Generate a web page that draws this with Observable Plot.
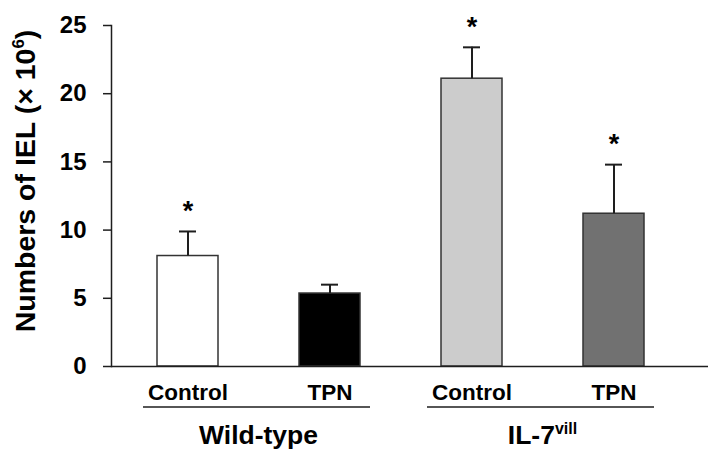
<!DOCTYPE html>
<html><head><meta charset="utf-8">
<script src="https://cdn.jsdelivr.net/npm/d3@7"></script>
<script src="https://cdn.jsdelivr.net/npm/@observablehq/plot@0.6"></script>
<style>
html,body{margin:0;padding:0;background:#fff;}
</style>
</head><body><div id="chart"></div>
<script>
// ---- data ----
const keys = ["WT-Control", "WT-TPN", "IL7-Control", "IL7-TPN"];
const conditions = ["Control", "TPN", "Control", "TPN"];
const groups = ["Wild-type", "Wild-type", "IL-7", "IL-7"];
const means = [8.1, 5.35, 21.1, 11.2];
const errors = [1.8, 0.65, 2.3, 3.6];
const significant = [true, false, true, true];
const fills = ["#ffffff", "#000000", "#cccccc", "#717171"];
const yTicks = [0, 5, 10, 15, 20, 25];
const groupNames = ["Wild-type", "IL-7"];
const groupSups = ["", "vill"];
const yTitleMain = "Numbers of IEL (× 10";
const yTitleSup = "6";
const yTitleEnd = ")";

const rows = keys.map((k, i) => ({
  key: k, condition: conditions[i], group: groups[i],
  mean: means[i], err: errors[i], sig: significant[i], fill: fills[i]
}));

const font = "'Liberation Sans', Arial, Helvetica, sans-serif";
const ink = "#1e1e1e";

const plot = Plot.plot({
  width: 714, height: 455,
  marginLeft: 111, marginRight: 6, marginTop: 25, marginBottom: 89,
  style: {fontFamily: font, fontWeight: "bold", background: "#fff", color: "#000", overflow: "visible"},
  x: {domain: keys, paddingInner: 0.57, paddingOuter: 0.387, align: 0.42},
  y: {domain: [0, 25]},
  color: {type: "identity"},
  marks: [
    Plot.barY(rows, {x: "key", y: "mean", fill: "fill", stroke: "#333", strokeWidth: 1.5}),
    Plot.ruleX(rows, {x: "key", y1: "mean", y2: d => d.mean + d.err, stroke: ink, strokeWidth: 2}),
    Plot.tickY(rows, {x: "key", y: d => d.mean + d.err, stroke: ink, strokeWidth: 2, insetLeft: 22, insetRight: 22}),
    Plot.text(rows.filter(d => d.sig), {x: "key", y: d => d.mean + d.err, text: () => "*", dy: -20, fontSize: 27, fontWeight: "bold", lineAnchor: "middle", fill: "#000"}),
    Plot.ruleY([0], {stroke: ink, strokeWidth: 1.5}),
    Plot.frame({anchor: "left", stroke: ink, strokeWidth: 1.5}),
    Plot.axisY({ticks: yTicks, tickSize: 8, tickPadding: 17, fontSize: 24, label: null, stroke: ink, strokeWidth: 1.5}),
    Plot.axisX({tickSize: 0, tickPadding: 18, fontSize: 22.5, label: null, tickFormat: k => conditions[keys.indexOf(k)]})
  ]
});

document.getElementById("chart").appendChild(plot);

// ---- group annotations derived from the x scale ----
const sx = plot.scale("x");
const bw = sx.bandwidth;
const svg = d3.select(plot);
groupNames.forEach((g, gi) => {
  const ks = keys.filter((k, i) => groups[i] === g);
  const x0 = sx.apply(ks[0]);
  const x1 = sx.apply(ks[ks.length - 1]) + bw;
  svg.append("line")
    .attr("x1", x0 - 14).attr("x2", x1 + 10)
    .attr("y1", 407).attr("y2", 407)
    .attr("stroke", ink).attr("stroke-width", 1.5);
  const t = svg.append("text")
    .attr("x", (x0 + x1) / 2).attr("y", 444)
    .attr("text-anchor", "middle")
    .attr("font-family", font).attr("font-weight", "bold")
    .attr("font-size", 26.5).attr("fill", "#000");
  t.append("tspan").text(g);
  if (groupSups[gi]) {
    t.append("tspan").attr("font-size", 16).attr("dy", -10).text(groupSups[gi]);
  }
});

// ---- y title ----
const yt = svg.append("text")
  .attr("transform", "translate(35,181) rotate(-90)")
  .attr("text-anchor", "middle")
  .attr("font-family", font).attr("font-weight", "bold")
  .attr("font-size", 28.5).attr("fill", "#000");
yt.append("tspan").text(yTitleMain);
yt.append("tspan").attr("font-size", 17).attr("dy", -11).text(yTitleSup);
yt.append("tspan").attr("dy", 11).text(yTitleEnd);
</script>
</body></html>
